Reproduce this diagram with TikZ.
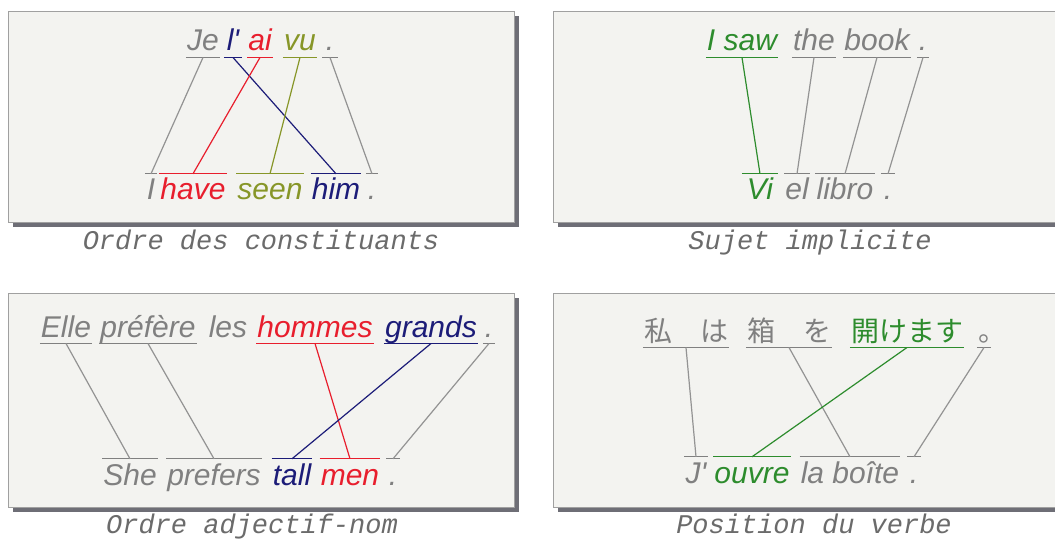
\documentclass[tikz,border=0pt]{standalone}
\usepackage{fontspec}
\newfontfamily\wordfont{Liberation Sans}
\newfontfamily\capfont{Liberation Mono}
\newfontfamily\jpfont{Noto Sans CJK JP}
\definecolor{wgray}{RGB}{128,128,128}
\definecolor{wnavy}{RGB}{28,28,120}
\definecolor{wred}{RGB}{232,30,45}
\definecolor{wolive}{RGB}{135,150,40}
\definecolor{wgreen}{RGB}{45,140,45}
\definecolor{panelbg}{RGB}{243,243,240}
\definecolor{panelrule}{RGB}{160,160,160}
\definecolor{panelshade}{RGB}{110,110,118}
\tikzset{
  wordbase/.style={font=\wordfont\itshape\fontsize{30}{36}\selectfont, text height=21.5pt, text depth=6.3pt, inner xsep=1pt, anchor=base},
  src/.style={wordbase, text=#1, inner ysep=0pt,
    append after command={(\tikzlastnode.south west) edge[draw=#1, line width=1.3pt] (\tikzlastnode.south east)}},
  tgt/.style={wordbase, text=#1, inner ysep=4.5pt,
    append after command={(\tikzlastnode.north west) edge[draw=#1, line width=1.3pt] (\tikzlastnode.north east)}},
  bare/.style={wordbase, text=#1, inner ysep=0pt},
  jp/.style={font=\jpfont\fontsize{28}{34}\selectfont},
  link/.style={line width=1.2pt},
  panel/.style={draw=panelrule, fill=panelbg, line width=0.8pt},
  shade/.style={fill=panelshade},
  paneltitle/.style={font=\capfont\itshape\fontsize{27}{32}\selectfont, text=black!58, anchor=base}
}
\begin{document}
\begin{tikzpicture}[x=1pt, y=-1pt]
\useasboundingbox (0,0) rectangle (1055,540);
\fill[white] (0,0) rectangle (1055,540);
% panels
\fill[shade] (13,16) rectangle (519,227);
\draw[panel] (8,11) rectangle (514,222);
\fill[shade] (558,16) rectangle (1075,227);
\draw[panel] (553,11) rectangle (1070,222);
\fill[shade] (13,298) rectangle (519,512);
\draw[panel] (8,293) rectangle (514,507);
\fill[shade] (558,298) rectangle (1075,512);
\draw[panel] (553,293) rectangle (1070,507);
% Ordre des constituants
\node[src=wgray] (je) at (203,51) {Je};
\node[src=wnavy, minimum width=18pt] (lapos) at (233,51) {l'};
\node[src=wred] (ai) at (260,51) {ai};
\node[src=wolive] (vu) at (300,51) {vu};
\node[src=wgray, minimum width=15pt] (dotja) at (330,51) {.};
\node[tgt=wgray, minimum width=12pt] (ien) at (151,200) {I};
\node[tgt=wred] (have) at (193,200) {have};
\node[tgt=wolive] (seen) at (270,200) {seen};
\node[tgt=wnavy] (him) at (336,200) {him};
\node[tgt=wgray, minimum width=12pt] (dotjb) at (372,200) {.};
\draw[link, wgray!85] (je.south) -- (ien.north);
\draw[link, wnavy] (lapos.south) -- (him.north);
\draw[link, wred] (ai.south) -- (have.north);
\draw[link, wolive] (vu.south) -- (seen.north);
\draw[link, wgray!85] (dotja.south) -- (dotjb.north);
\node[paneltitle] (capa) at (261,250) {Ordre des constituants};
% Sujet implicite
\node[src=wgreen] (isaw) at (742,51) {I saw};
\node[src=wgray] (the) at (814,51) {the};
\node[src=wgray] (book) at (877,51) {book};
\node[src=wgray, minimum width=12pt] (dotsa) at (923,51) {.};
\node[tgt=wgreen, minimum width=36pt] (vi) at (760,200) {Vi};
\node[tgt=wgray] (el) at (797,200) {el};
\node[tgt=wgray] (libro) at (845,200) {libro};
\node[tgt=wgray, minimum width=14pt] (dotsb) at (888,200) {.};
\draw[link, wgreen] (isaw.south) -- (vi.north);
\draw[link, wgray!85] (the.south) -- (el.north);
\draw[link, wgray!85] (book.south) -- (libro.north);
\draw[link, wgray!85] (dotsa.south) -- (dotsb.north);
\node[paneltitle] (capb) at (810,250) {Sujet implicite};
% Ordre adjectif-nom
\node[src=wgray] (elle) at (66,337) {Elle};
\node[src=wgray] (prefere) at (148,337) {préfère};
\node[bare=wgray] (les) at (228,337) {les};
\node[src=wred] (hommes) at (315,337) {hommes};
\node[src=wnavy] (grands) at (431,337) {grands};
\node[src=wgray, minimum width=12pt] (dotaa) at (489,337) {.};
\node[tgt=wgray] (she) at (130,485) {She};
\node[tgt=wgray] (prefers) at (214,485) {prefers};
\node[tgt=wnavy] (tall) at (292,485) {tall};
\node[tgt=wred] (men) at (350,485) {men};
\node[tgt=wgray, minimum width=13pt] (dotab) at (393,485) {.};
\draw[link, wgray!85] (elle.south) -- (she.north);
\draw[link, wgray!85] (prefere.south) -- (prefers.north);
\draw[link, wred] (hommes.south) -- (men.north);
\draw[link, wnavy] (grands.south) -- (tall.north);
\draw[link, wgray!85] (dotaa.south) -- (dotab.north);
\node[paneltitle] (capc) at (252,533) {Ordre adjectif-nom};
% Position du verbe
\node[src=wgray, jp] (watashi) at (686,341) {私　は};
\node[src=wgray, jp] (hako) at (789,341) {箱　を};
\node[src=wgreen, jp] (akemasu) at (907,341) {開けます};
\node[src=wgray, jp] (maru) at (984,341) {\makebox[12pt][l]{。}};
\node[tgt=wgray] (japos) at (696,483) {J'};
\node[tgt=wgreen] (ouvre) at (752,483) {ouvre};
\node[tgt=wgray] (boite) at (850,483) {la boîte};
\node[tgt=wgray, minimum width=13pt] (dotvb) at (914,483) {.};
\draw[link, wgray!85] (watashi.south) -- (japos.north);
\draw[link, wgray!85] (hako.south) -- (boite.north);
\draw[link, wgreen] (akemasu.south) -- (ouvre.north);
\draw[link, wgray!85] (maru.south) -- (dotvb.north);
\node[paneltitle] (capd) at (814,533) {Position du verbe};
\end{tikzpicture}
\end{document}
